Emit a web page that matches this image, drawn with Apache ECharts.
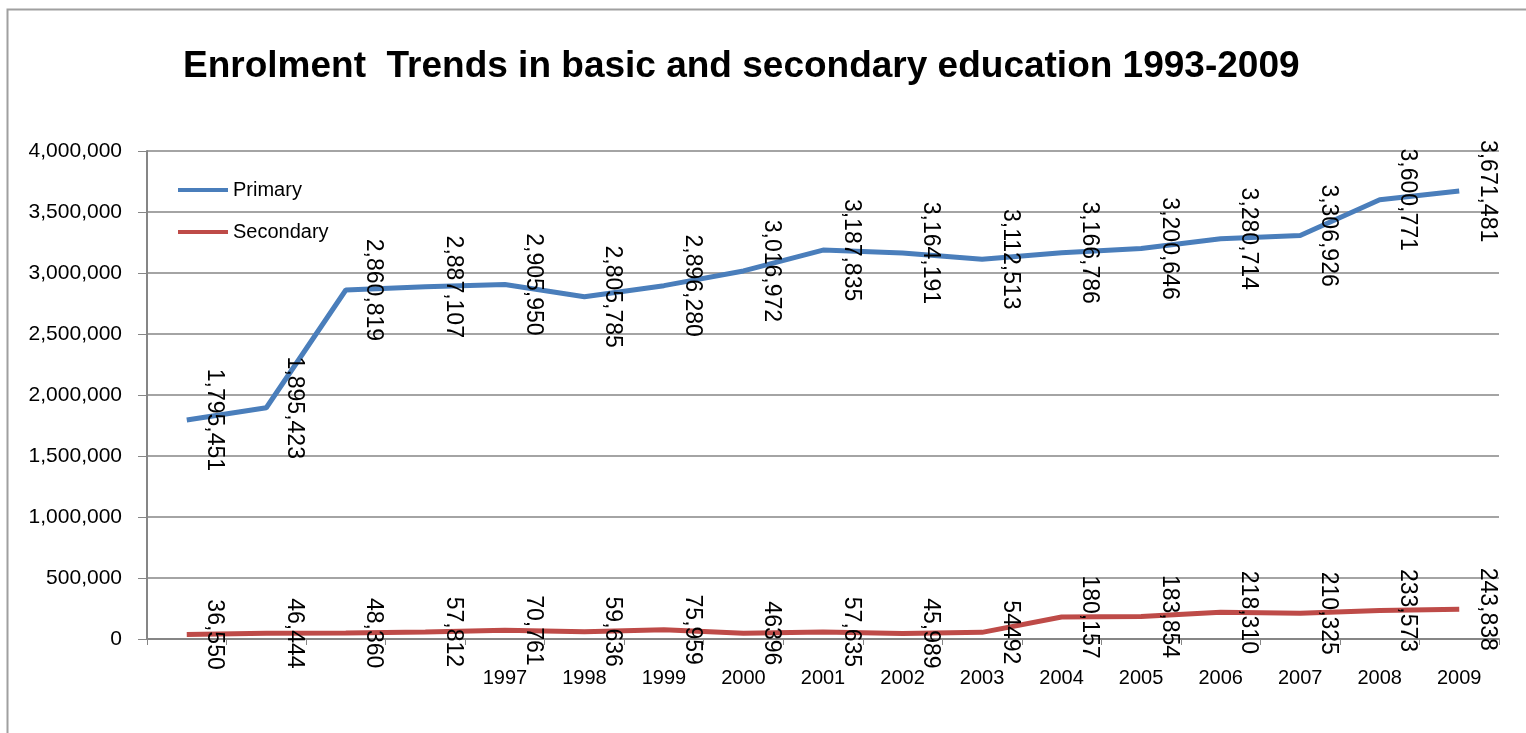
<!DOCTYPE html>
<html lang="en">
<head>
    <meta charset="UTF-8">
    <title>Enrolment Trends</title>
    <script src="https://cdn.jsdelivr.net/npm/echarts@6/dist/echarts.min.js"></script>
    <style>
        html, body {
            margin: 0;
            height: 100%;
            background: #fff;
        }
        #main {
            width: 1526px;
            height: 733px;
        }
    </style>
</head>
<body>
<div id="main"></div>
<script>
    // years of the series (axis shows only 1997 onwards)
    var years = ['1993', '1994', '1995', '1996', '1997', '1998', '1999', '2000', '2001',
        '2002', '2003', '2004', '2005', '2006', '2007', '2008', '2009'];
    var tickLabels = ['', '', '', '', '1997', '1998', '1999', '2000', '2001',
        '2002', '2003', '2004', '2005', '2006', '2007', '2008', '2009'];
    var primary = [1795451, 1895423, 2860819, 2887107, 2905950, 2805785, 2896280, 3016972, 3187835,
        3164191, 3112513, 3166786, 3200646, 3280714, 3306926, 3600771, 3671481];
    var secondary = [36550, 46444, 48360, 57812, 70761, 59636, 75959, 46396, 57635,
        45989, 54492, 180157, 183854, 218310, 210325, 233573, 243838];
    // labels the source printed without thousands separator
    var plainSecondary = [7, 10];

    var font = 'Liberation Sans';
    var grey = '#868686';

    function fmt(v) {
        return String(v).replace(/\B(?=(\d{3})+(?!\d))/g, ',');
    }

    var myChart = echarts.init(document.getElementById('main'));

    var labelStyle = {
        show: true,
        position: [28, 0],
        align: 'center',
        verticalAlign: 'middle',
        rotate: -90,
        fontFamily: font,
        fontSize: 23,
        color: '#000'
    };

    var option = {
        animation: false,
        backgroundColor: '#fff',
        title: {
            text: 'Enrolment  Trends in basic and secondary education 1993-2009',
            left: 178,
            top: 43,
            textStyle: {
                fontFamily: font,
                fontWeight: 'bold',
                fontSize: 37,
                color: '#000'
            }
        },
        graphic: [{
            type: 'rect',
            shape: {x: 7.5, y: 9.5, width: 1600, height: 800},
            style: {fill: 'none', stroke: '#a0a0a0', lineWidth: 2},
            z: -1
        }],
        legend: {
            orient: 'vertical',
            left: 173,
            top: 175,
            itemWidth: 50,
            itemHeight: 4,
            itemGap: 22,
            icon: 'rect',
            textStyle: {fontFamily: font, fontSize: 20, color: '#000'},
            data: ['Primary', 'Secondary']
        },
        grid: {
            left: 147,
            right: 27,
            top: 151,
            bottom: 94,
            containLabel: false
        },
        xAxis: {
            type: 'category',
            data: years,
            boundaryGap: true,
            axisLine: {lineStyle: {color: grey, width: 2}},
            axisTick: {show: true, length: 6, lineStyle: {color: grey}},
            axisLabel: {
                margin: 29,
                fontFamily: font,
                fontSize: 20,
                color: '#000',
                interval: 0,
                formatter: function (v, i) {
                    return tickLabels[i];
                }
            },
            splitLine: {show: false}
        },
        yAxis: {
            type: 'value',
            min: 0,
            max: 4000000,
            interval: 500000,
            axisLine: {show: true, lineStyle: {color: grey, width: 2}},
            axisTick: {show: true, length: 9, lineStyle: {color: grey}},
            axisLabel: {
                margin: 25,
                fontFamily: font,
                fontSize: 21,
                color: '#000',
                formatter: fmt
            },
            splitLine: {lineStyle: {color: grey, width: 1.5}}
        },
        series: [
            {
                name: 'Primary',
                type: 'line',
                data: primary,
                symbol: 'circle',
                symbolSize: 0,
                showSymbol: true,
                lineStyle: {color: '#4a7ebb', width: 5},
                itemStyle: {color: '#4a7ebb'},
                label: Object.assign({}, labelStyle, {
                    formatter: function (p) {
                        return fmt(p.value);
                    }
                }),
                labelLayout: {hideOverlap: false},
                z: 3
            },
            {
                name: 'Secondary',
                type: 'line',
                data: secondary,
                symbol: 'circle',
                symbolSize: 0,
                showSymbol: true,
                lineStyle: {color: '#be4b48', width: 5},
                itemStyle: {color: '#be4b48'},
                label: Object.assign({}, labelStyle, {
                    formatter: function (p) {
                        return plainSecondary.indexOf(p.dataIndex) >= 0 ? String(p.value) : fmt(p.value);
                    }
                }),
                labelLayout: {hideOverlap: false},
                z: 2
            }
        ]
    };

    myChart.setOption(option);
</script>
</body>
</html>
